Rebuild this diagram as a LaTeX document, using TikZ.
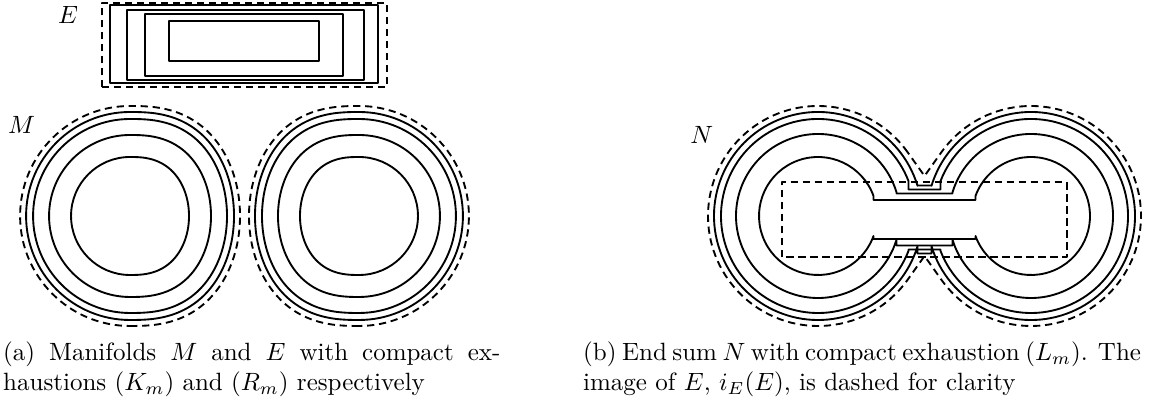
\documentclass[tikz,border=0pt]{standalone}
\begin{document}
\begin{tikzpicture}[x=0.4pt,y=0.4pt,
  ln/.style={line width=0.75pt, line join=round},
  dsh/.style={ln, dash pattern=on 2.9pt off 1.9pt},
  lbl/.style={inner sep=0pt, font=\normalsize}]
\useasboundingbox (0,0) rectangle (1164,404);
% ---- E : exhaustion by rectangles
\draw[dsh] (101.7,316.7) rectangle (386.7,401.3);
\draw[ln] (110,320.7) rectangle (378.3,399);
\draw[ln] (127.3,324) rectangle (364.3,394);
\draw[ln] (145,328) rectangle (343.3,390);
\draw[ln] (169.3,343.3) rectangle (319.3,383.3);
\node[lbl] (labE) at (68,389) {$E$};
% ---- M : two components, each slightly flattened on the side facing the other
\foreach \r/\s in {110/dsh,104/ln,97/ln,81/ln,59/ln}{
  \draw[\s] plot[domain=-90:90, samples=91]
    ({130+\r*(abs(cos(\x))+0.0001)^0.78},{188+\r*sin(\x)})
    arc[start angle=90,end angle=270,radius=\r] -- cycle;
  \draw[\s] plot[domain=-90:90, samples=91]
    ({359-\r*(abs(cos(\x))+0.0001)^0.78},{188+\r*sin(\x)})
    arc[start angle=90,end angle=-90,radius=\r] -- cycle;
}
\node[lbl] (labM) at (21.7,279) {$M$};
% ---- N : end sum
\foreach \r/\hw/\hh in {104/7/34, 97/16/30, 82/28/26, 59/51/19.5}{
  \pgfmathsetmacro\xl{924.5-\hw}
  \pgfmathsetmacro\xr{924.5+\hw}
  \pgfmathsetmacro\aL{acos((\xl-818)/\r)}
  \pgfmathsetmacro\aR{acos((1031-\xr)/\r)}
  \pgfmathsetmacro\yb{184.5-\hh}
  \pgfmathsetmacro\yt{184.5+\hh}
  \coordinate (ns) at ({818+\r*cos(\aL)},{188+\r*sin(\aL)});
  \coordinate (nr) at ({1031-\r*cos(\aR)},{188-\r*sin(\aR)});
  \draw[ln] (ns) arc[start angle=\aL,end angle={360-\aL},radius=\r]
     -- (\xl,\yb) -- (\xr,\yb) -- (nr)
     arc[start angle={180+\aR},end angle={540-\aR},radius=\r]
     -- (\xr,\yt) -- (\xl,\yt) -- cycle;
}
\coordinate (dl) at ({818+110*cos(35.5)},{188+110*sin(35.5)});
\coordinate (dr) at ({1031-110*cos(35.5)},{188-110*sin(35.5)});
\coordinate (tipb) at (924.5,148);
\coordinate (tipt) at (924.5,228);
\draw[dsh] (dl) arc[start angle=35.5,end angle=324.5,radius=110]
   -- (tipb) -- (dr) arc[start angle=215.5,end angle=504.5,radius=110] -- (tipt) -- cycle;
\draw[dsh] (781.7,146.7) rectangle (1066.7,221.7);
\node[lbl] (labN) at (701.7,269) {$N$};
% ---- captions
\node[lbl, anchor=base west] (capA1) at (2.7,43) {\makebox[198.9pt][s]{(a) Manifolds $M$ and $E$ with compact ex-}};
\node[lbl, anchor=base west] (capA2) at (2.7,13) {haustions $(K_m)$ and $(R_m)$ respectively};
\node[lbl, anchor=base west] (capB1) at (582.7,43) {\makebox[203.6pt][s]{(b) End sum $N$ with compact exhaustion $(L_m)$. The}};
\node[lbl, anchor=base west] (capB2) at (582.7,13) {image of $E$, $i_E(E)$, is dashed for clarity};
\end{tikzpicture}
\end{document}
